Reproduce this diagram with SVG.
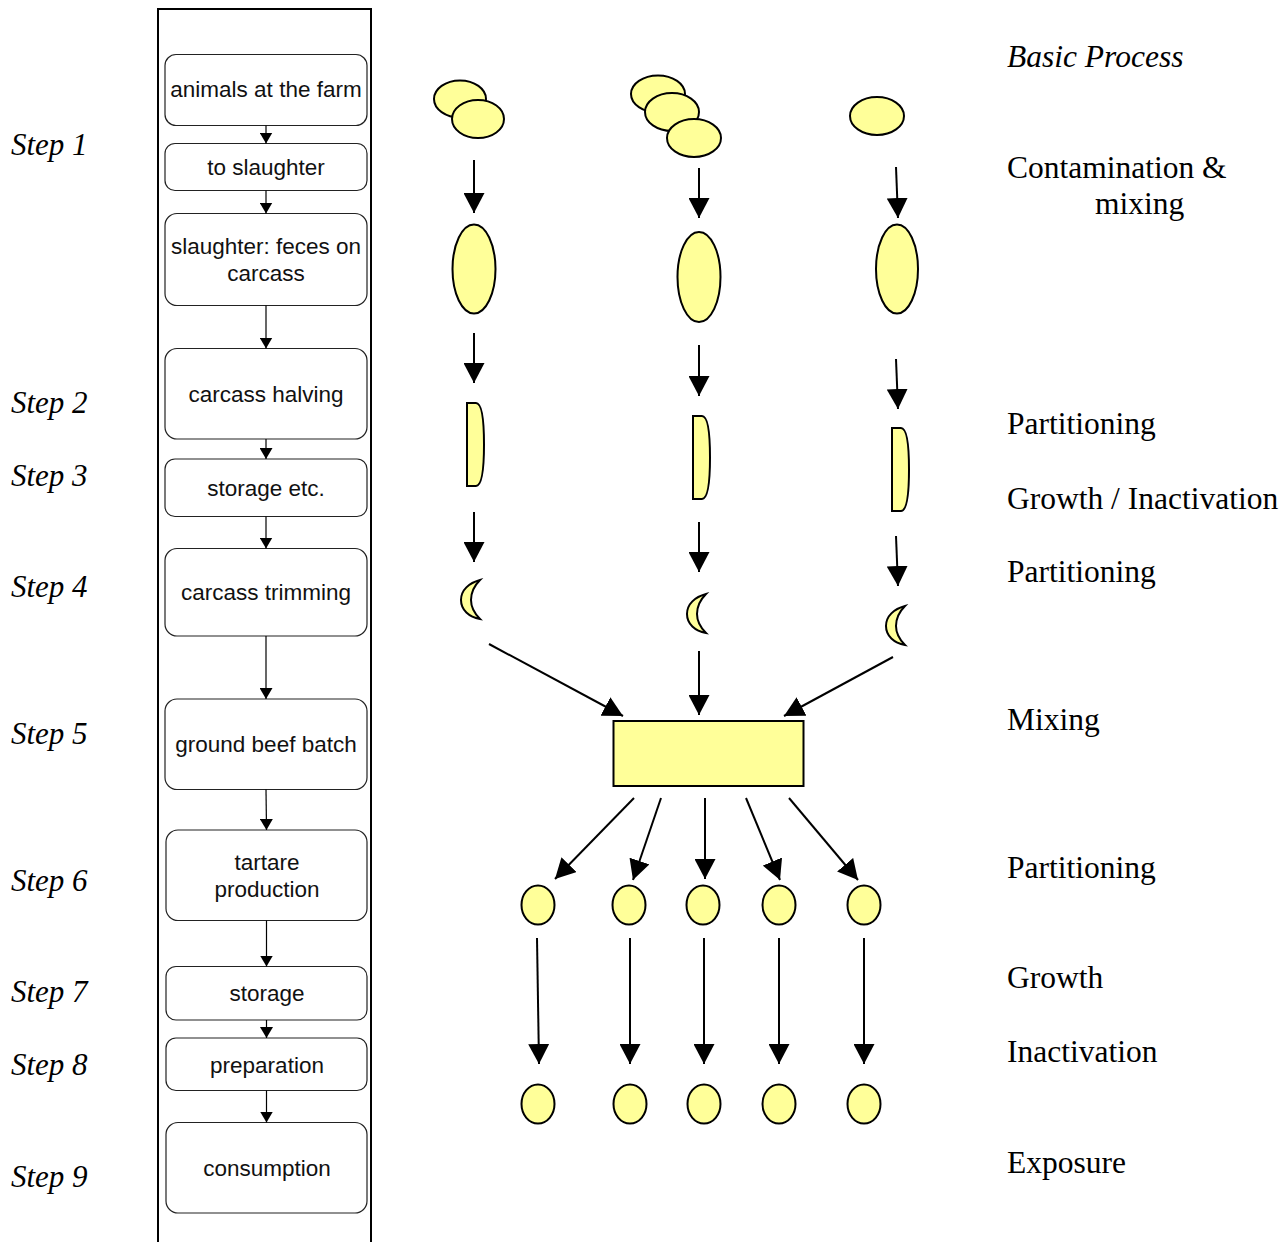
<svg xmlns="http://www.w3.org/2000/svg" width="1286" height="1242" viewBox="0 0 1286 1242">
<style>
.bg{fill:#fff}
.frame{fill:none;stroke:#000;stroke-width:2}
.box{fill:#fff;stroke:#222;stroke-width:1.2}
.bt{font-family:"Liberation Sans",Arial,sans-serif;font-size:22.5px;fill:#111;text-anchor:middle}
.step{font-family:"Liberation Serif","Times New Roman",serif;font-style:italic;font-size:31px;fill:#000}
.lab{font-family:"Liberation Serif","Times New Roman",serif;font-size:31.5px;fill:#000}
.y{fill:#FFFF99;stroke:#000;stroke-width:2}
.sa{stroke:#000;stroke-width:1.2;fill:none;marker-end:url(#sm)}
.ba{stroke:#000;stroke-width:2;fill:none;marker-end:url(#bm)}
</style>
<defs>
<marker id="sm" markerUnits="userSpaceOnUse" markerWidth="12" markerHeight="13" refX="11" refY="6.5" orient="auto" viewBox="0 0 12 13"><path d="M0,0 L11,6.5 L0,13 Z" fill="#000"/></marker>
<marker id="bm" markerUnits="userSpaceOnUse" markerWidth="21" markerHeight="21" refX="20" refY="10.5" orient="auto" viewBox="0 0 21 21"><path d="M0,0 L20,10.5 L0,21 Z" fill="#000"/></marker>
<path id="half" d="M0,0 H9 C15,0 17,17 17,41.5 C17,66 15,83 9,83 H0 Z"/>
<path id="moon" d="M19,0 C8,3 0,10 0,20 C0,30 8,37 19,39 C13,33 10,27 10,20 C10,13 13,6 19,0 Z"/>
</defs>
<rect class="bg" x="0" y="0" width="1286" height="1242"/>

<g id="frame"><path class="frame" d="M158,1250 V9 H371 V1250"/></g>

<g id="steps">
<text class="step" x="11" y="155">Step 1</text>
<text class="step" x="11" y="413">Step 2</text>
<text class="step" x="11" y="486">Step 3</text>
<text class="step" x="11" y="597">Step 4</text>
<text class="step" x="11" y="744">Step 5</text>
<text class="step" x="11" y="891">Step 6</text>
<text class="step" x="11" y="1002">Step 7</text>
<text class="step" x="11" y="1075">Step 8</text>
<text class="step" x="11" y="1187">Step 9</text>
</g>

<g id="labels">
<text class="lab" x="1007" y="67" font-style="italic">Basic Process</text>
<text class="lab" x="1007" y="178">Contamination &amp;</text>
<text class="lab" x="1095" y="214">mixing</text>
<text class="lab" x="1007" y="434">Partitioning</text>
<text class="lab" x="1007" y="509">Growth / Inactivation</text>
<text class="lab" x="1007" y="582">Partitioning</text>
<text class="lab" x="1007" y="730">Mixing</text>
<text class="lab" x="1007" y="878">Partitioning</text>
<text class="lab" x="1007" y="988">Growth</text>
<text class="lab" x="1007" y="1062">Inactivation</text>
<text class="lab" x="1007" y="1173">Exposure</text>
</g>

<g id="n1"><rect class="box" x="165" y="54.5" width="202" height="71" rx="11"/><text class="bt" x="266" y="97">animals at the farm</text></g>
<g id="n2"><rect class="box" x="165" y="143.5" width="202" height="47" rx="10"/><text class="bt" x="266" y="175">to slaughter</text></g>
<g id="n3"><rect class="box" x="165" y="213.5" width="202" height="92" rx="12"/><text class="bt" x="266" y="254">slaughter: feces on</text><text class="bt" x="266" y="281">carcass</text></g>
<g id="n4"><rect class="box" x="165" y="348.5" width="202" height="90.5" rx="12"/><text class="bt" x="266" y="402">carcass halving</text></g>
<g id="n5"><rect class="box" x="165" y="459" width="202" height="57.5" rx="10"/><text class="bt" x="266" y="496">storage etc.</text></g>
<g id="n6"><rect class="box" x="165" y="548.5" width="202" height="87.5" rx="12"/><text class="bt" x="266" y="600">carcass trimming</text></g>
<g id="n7"><rect class="box" x="165" y="699" width="202" height="90.5" rx="12"/><text class="bt" x="266" y="752">ground beef batch</text></g>
<g id="n8"><rect class="box" x="166" y="830" width="201" height="90.5" rx="12"/><text class="bt" x="267" y="870">tartare</text><text class="bt" x="267" y="897">production</text></g>
<g id="n9"><rect class="box" x="166" y="966.5" width="201" height="53.5" rx="10"/><text class="bt" x="267" y="1001">storage</text></g>
<g id="n10"><rect class="box" x="166" y="1038" width="201" height="52.5" rx="10"/><text class="bt" x="267" y="1073">preparation</text></g>
<g id="n11"><rect class="box" x="166" y="1122.5" width="201" height="90.5" rx="12"/><text class="bt" x="267" y="1176">consumption</text></g>

<g id="col1">
<ellipse class="y" cx="460" cy="99" rx="26" ry="18.5"/>
<ellipse class="y" cx="478" cy="119" rx="26" ry="19"/>
<ellipse class="y" cx="474" cy="269" rx="21.5" ry="44.5"/>
<use href="#half" class="y" x="467" y="403"/>
<use href="#moon" class="y" x="461" y="580"/>
</g>
<g id="col2">
<ellipse class="y" cx="658" cy="94" rx="27" ry="18.5"/>
<ellipse class="y" cx="672" cy="112" rx="27" ry="19"/>
<ellipse class="y" cx="694" cy="138" rx="27" ry="19"/>
<ellipse class="y" cx="699" cy="277" rx="21.5" ry="45"/>
<use href="#half" class="y" x="693" y="416"/>
<use href="#moon" class="y" x="687" y="594"/>
</g>
<g id="col3">
<ellipse class="y" cx="877" cy="116" rx="27" ry="19"/>
<ellipse class="y" cx="897" cy="269" rx="21" ry="44.5"/>
<use href="#half" class="y" x="892" y="428"/>
<use href="#moon" class="y" x="886" y="606"/>
</g>
<g id="batch"><rect class="y" x="613.5" y="721" width="190" height="65"/></g>
<g id="portions1">
<ellipse class="y" cx="538" cy="905" rx="16.5" ry="19.5"/>
<ellipse class="y" cx="629" cy="905" rx="16.5" ry="19.5"/>
<ellipse class="y" cx="703" cy="905" rx="16.5" ry="19.5"/>
<ellipse class="y" cx="779" cy="905" rx="16.5" ry="19.5"/>
<ellipse class="y" cx="864" cy="905" rx="16.5" ry="19.5"/>
</g>
<g id="portions2">
<ellipse class="y" cx="538" cy="1104" rx="16.5" ry="19.5"/>
<ellipse class="y" cx="630" cy="1104" rx="16.5" ry="19.5"/>
<ellipse class="y" cx="704" cy="1104" rx="16.5" ry="19.5"/>
<ellipse class="y" cx="779" cy="1104" rx="16.5" ry="19.5"/>
<ellipse class="y" cx="864" cy="1104" rx="16.5" ry="19.5"/>
</g>

<g id="connectors">
<line class="sa" x1="266" y1="125.5" x2="266" y2="143.5"/>
<line class="sa" x1="266" y1="190.5" x2="266" y2="213.5"/>
<line class="sa" x1="266" y1="305.5" x2="266" y2="348.5"/>
<line class="sa" x1="266" y1="439" x2="266" y2="459"/>
<line class="sa" x1="266" y1="516.5" x2="266" y2="548.5"/>
<line class="sa" x1="266" y1="636" x2="266" y2="699"/>
<line class="sa" x1="266" y1="789.5" x2="266.5" y2="830"/>
<line class="sa" x1="266.5" y1="920.5" x2="266.5" y2="966.5"/>
<line class="sa" x1="266.5" y1="1020" x2="266.5" y2="1038"/>
<line class="sa" x1="266.5" y1="1090.5" x2="266.5" y2="1122.5"/>

<line class="ba" x1="474" y1="160" x2="474" y2="213"/>
<line class="ba" x1="474" y1="333" x2="474" y2="383"/>
<line class="ba" x1="474" y1="512" x2="474" y2="562"/>
<line class="ba" x1="699" y1="168" x2="699" y2="218"/>
<line class="ba" x1="699" y1="345" x2="699" y2="396"/>
<line class="ba" x1="699" y1="522" x2="699" y2="572"/>
<line class="ba" x1="896" y1="167" x2="898" y2="218"/>
<line class="ba" x1="896" y1="359" x2="898" y2="409"/>
<line class="ba" x1="896" y1="536" x2="898" y2="586"/>

<line class="ba" x1="489" y1="644" x2="623" y2="716"/>
<line class="ba" x1="699" y1="651" x2="699" y2="715"/>
<line class="ba" x1="893" y1="657" x2="784" y2="716"/>

<line class="ba" x1="634" y1="798" x2="555" y2="879"/>
<line class="ba" x1="661" y1="798" x2="633" y2="880"/>
<line class="ba" x1="705" y1="798" x2="705" y2="879"/>
<line class="ba" x1="746" y1="798" x2="780" y2="880"/>
<line class="ba" x1="789" y1="798" x2="858" y2="880"/>

<line class="ba" x1="537" y1="938" x2="539" y2="1064"/>
<line class="ba" x1="630" y1="938" x2="630" y2="1064"/>
<line class="ba" x1="704" y1="938" x2="704" y2="1064"/>
<line class="ba" x1="779" y1="938" x2="779" y2="1064"/>
<line class="ba" x1="864" y1="938" x2="864" y2="1064"/>
</g>
</svg>
